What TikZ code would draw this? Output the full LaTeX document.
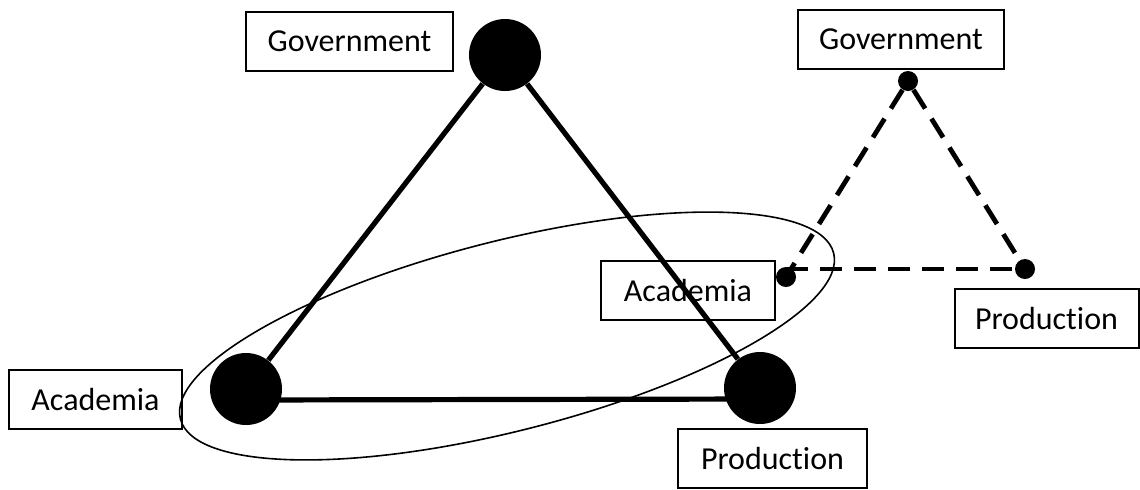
\documentclass[tikz,border=0pt]{standalone}
\usepackage{fontspec}
\setmainfont{Carlito}[Ligatures=NoCommon]
\usetikzlibrary{shapes.geometric}

\begin{document}
\begin{tikzpicture}[x=0.5pt,y=-0.5pt,
  box/.style={draw,line width=1pt,minimum width=#1,minimum height=29.5pt,inner sep=0pt,font=\fontsize{16}{19}\selectfont},
  big/.style={circle,fill=black,minimum size=36pt,inner sep=0pt},
  small/.style={circle,fill=black,minimum size=10pt,inner sep=0pt},
  link/.style={line width=2.6pt},
  dline/.style={line width=2.4pt,dash pattern=on 11pt off 6pt}]
\useasboundingbox (0,0) rectangle (1140,489);

\node[draw,ellipse,line width=0.8pt,minimum width=337pt,minimum height=95pt,rotate=14.25](e) at (507,336) {};

\node[big](g) at (505,55) {};
\node[big](a) at (246,389) {};
\node[big](p) at (760,388) {};

\draw[link] (a) -- (g);
\draw[link] (g) -- (p);
\draw[link] ([yshift=-5.5pt]a.center) -- ([yshift=-5.5pt]p.center);

\node[box=103.5pt](gl) at (349.5,41.5) {Government};
\node[box=86.5pt](al) at (95.5,399.5) {Academia};
\node[box=94.5pt](pl) at (772.5,458.5) {Production};

\node[box=103pt](gr) at (901,39.5) {Government};
\node[box=87pt](ar) at (688,290) {Academia};
\node[box=92pt](pr) at (1046.5,318.5) {Production};

\node[small](g2) at (908,81) {};
\node[small](a2) at (786,277) {};
\node[small](p2) at (1025,269) {};

\draw[dline] (g2) -- (a2);
\draw[dline] (g2) -- (p2);
\draw[dline] (a2 |- p2) -- (p2);
\end{tikzpicture}
\end{document}
